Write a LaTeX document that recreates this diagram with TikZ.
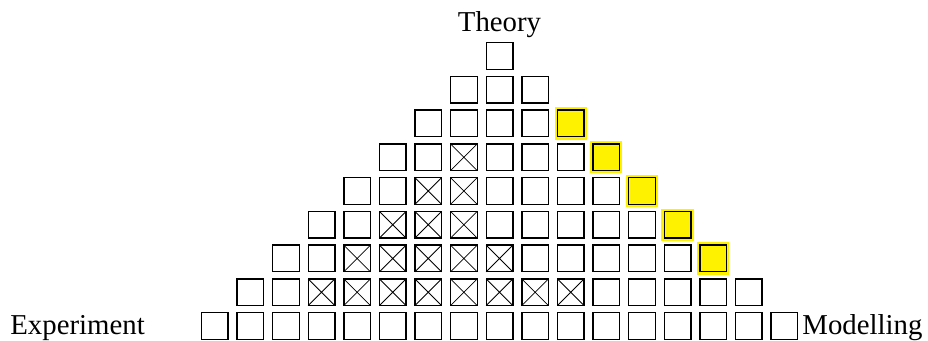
\documentclass[tikz,border=0pt]{standalone}
\usepackage{fontspec}
\setmainfont{Liberation Serif}
\usepackage{xcolor}
\usepackage{tikz}

\begin{document}
\begin{tikzpicture}[
  x=0.5pt, y=0.5pt,
  cell/.style={rectangle, draw, line width=0.7pt, minimum size=13.3pt, inner sep=0pt, outer sep=0pt},
  hl/.style={fill=yellow, preaction={draw=yellow, line width=2.8pt}},
  xline/.style={line width=0.4pt},
  lbl/.style={font=\fontsize{14.4}{17}\selectfont, inner sep=0pt}
]
  \useasboundingbox (0,0) rectangle (928,341);

  % Pyramid of cells, row 0 at the top
  \foreach \r in {0,...,8}{
    \pgfmathtruncatemacro\lo{8-\r}
    \pgfmathtruncatemacro\hi{8+\r}
    \foreach \k in {\lo,...,\hi}{
      \tikzset{mark cell/.style={}}
      \ifnum\k=\hi\relax \ifnum\r>1\relax \ifnum\r<7\relax \tikzset{mark cell/.style={hl}}\fi\fi\fi
      \node[cell, mark cell] (b\r-\k) at ({499.5+35.6*(\k-8)}, {285-33.75*\r}) {};
    }
  }

  % Crossed cells
  \foreach \r/\a/\b in {3/7/7, 4/6/7, 5/5/7, 6/4/8, 7/3/10}{
    \foreach \k in {\a,...,\b}{
      \draw[xline] (b\r-\k.north west) -- (b\r-\k.south east)
                   (b\r-\k.north east) -- (b\r-\k.south west);
    }
  }

  % Corner labels
  \node[lbl, anchor=base] (theory) at (499.5,309) {Theory};
  \node[lbl, anchor=base west] (experiment) at (10,6) {Experiment};
  \node[lbl, anchor=base west] (modelling) at (802,6) {Modelling};
\end{tikzpicture}
\end{document}
